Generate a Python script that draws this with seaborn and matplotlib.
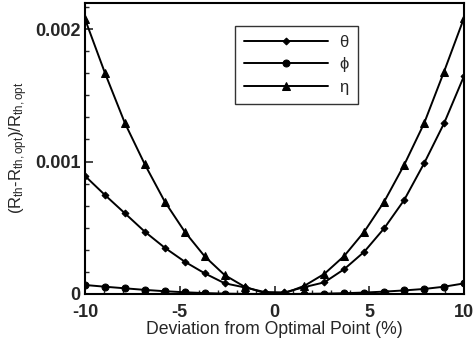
import numpy as np
import pandas as pd
import matplotlib
matplotlib.use("Agg")
import matplotlib.pyplot as plt
from matplotlib.ticker import MultipleLocator, FixedLocator, FixedFormatter
import seaborn as sns

# Data
deviation = [-10.0, -8.947, -7.895, -6.842, -5.789, -4.737, -3.684, -2.632, -1.579, -0.526,
             0.526, 1.579, 2.632, 3.684, 4.737, 5.789, 6.842, 7.895, 8.947, 10.0]
theta = [0.891e-3, 0.747e-3, 0.609e-3, 0.470e-3, 0.349e-3, 0.244e-3, 0.156e-3, 0.081e-3, 0.050e-3, 0.015e-3,
         0.012e-3, 0.052e-3, 0.088e-3, 0.188e-3, 0.319e-3, 0.496e-3, 0.709e-3, 0.986e-3, 1.288e-3, 1.645e-3]
phi = [0.068e-3, 0.055e-3, 0.043e-3, 0.031e-3, 0.021e-3, 0.013e-3, 0.007e-3, 0.003e-3, 0.001e-3, 0.0,
       0.0, 0.001e-3, 0.003e-3, 0.006e-3, 0.011e-3, 0.018e-3, 0.027e-3, 0.038e-3, 0.055e-3, 0.080e-3]
eta = [2.075e-3, 1.668e-3, 1.290e-3, 0.978e-3, 0.697e-3, 0.470e-3, 0.284e-3, 0.143e-3, 0.055e-3, 0.007e-3,
       0.005e-3, 0.062e-3, 0.152e-3, 0.288e-3, 0.470e-3, 0.697e-3, 0.974e-3, 1.288e-3, 1.678e-3, 2.083e-3]
series_names = ["θ", "ϕ", "η"]
x_ticks = [-10, -5, 0, 5, 10]
x_tick_labels = ["-10", "-5", "0", "5", "10"]
y_ticks = [0.0, 0.001, 0.002]
y_tick_labels = ["0", "0.001", "0.002"]

sns.set_theme(style="ticks")
plt.rcParams["font.family"] = ["Liberation Sans", "DejaVu Sans"]
plt.rcParams["mathtext.fontset"] = "custom"
plt.rcParams["mathtext.rm"] = "Liberation Sans"
plt.rcParams["mathtext.it"] = "Liberation Sans"

df = pd.DataFrame({
    "x": deviation * 3,
    "y": theta + phi + eta,
    "series": [series_names[0]] * 20 + [series_names[1]] * 20 + [series_names[2]] * 20,
})

fig = plt.figure(figsize=(4.73, 3.39), dpi=100)
ax = fig.add_axes([85 / 473, (339 - 294) / 339, (464 - 85) / 473, 291.5 / 339])

styles = {series_names[0]: ("D", 3.5), series_names[1]: ("o", 5.0), series_names[2]: ("^", 5.5)}
for name in series_names:
    sub = df[df["series"] == name]
    m, ms = styles[name]
    sns.lineplot(data=sub, x="x", y="y", ax=ax, color="black", linewidth=1.4,
                 marker=m, markersize=ms, markeredgecolor="black", markerfacecolor="black",
                 label=name, sort=False)

ax.set_xlim(-10, 10)
ax.set_ylim(0, 0.0022)
ax.xaxis.set_major_locator(FixedLocator(x_ticks))
ax.xaxis.set_major_formatter(FixedFormatter(x_tick_labels))
ax.xaxis.set_minor_locator(MultipleLocator(1))
ax.yaxis.set_major_locator(FixedLocator(y_ticks))
ax.yaxis.set_major_formatter(FixedFormatter(y_tick_labels))
ax.yaxis.set_minor_locator(MultipleLocator(0.001 / 6))
ax.tick_params(which="major", direction="in", length=6, width=1.2, labelsize=13)
ax.tick_params(axis="x", which="major", pad=7)
ax.tick_params(axis="y", which="major", pad=3)
ax.tick_params(which="minor", direction="in", length=3, width=1.0)
for lbl in ax.get_xticklabels() + ax.get_yticklabels():
    lbl.set_fontweight("bold")
for sp in ax.spines.values():
    sp.set_linewidth(1.5)
    sp.set_color("black")
    sp.set_visible(True)

ax.set_xlabel("Deviation from Optimal Point (%)", fontsize=12.7, labelpad=0)
ax.set_ylabel(r"(R$_{\mathrm{th}}$-R$_{\mathrm{th,opt}}$)/R$_{\mathrm{th,opt}}$", fontsize=12, labelpad=4)

leg = ax.legend(loc="upper left", bbox_to_anchor=(0.396, 0.921), frameon=True, fancybox=False,
                edgecolor="black", fontsize=12, handlelength=5.0, handletextpad=0.7,
                labelspacing=0.45, borderpad=0.55, numpoints=1, borderaxespad=0)
leg.get_frame().set_linewidth(1.0)

fig.savefig("out.png", dpi=100)
